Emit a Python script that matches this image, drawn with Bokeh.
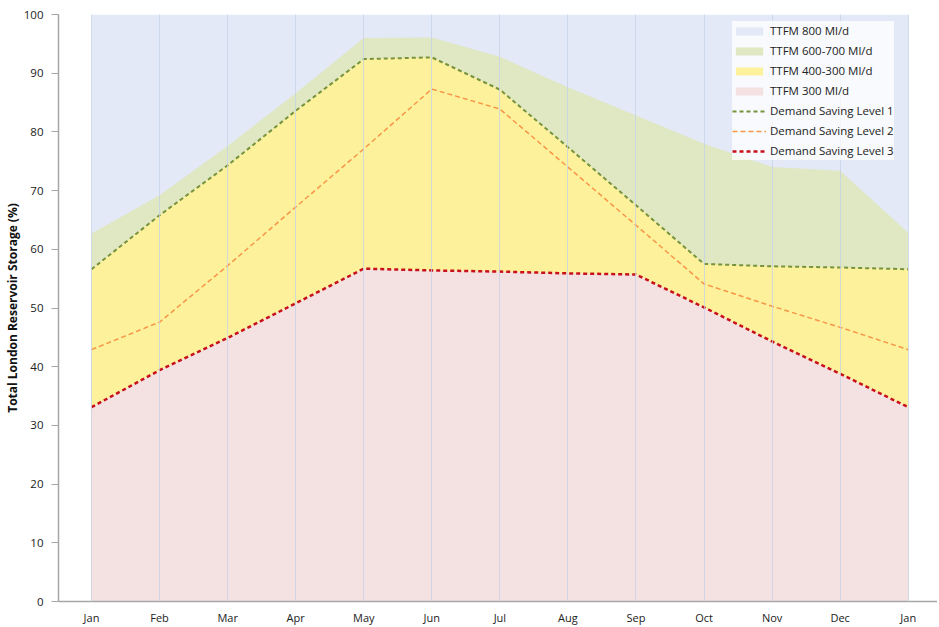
from bokeh.plotting import figure
from bokeh.models import Range1d, FixedTicker, Legend, LegendItem
from bokeh.embed import file_html
from bokeh.resources import INLINE

months = ["Jan", "Feb", "Mar", "Apr", "May", "Jun", "Jul", "Aug", "Sep", "Oct", "Nov", "Dec", "Jan"]
ttfm_800 = [100, 100, 100, 100, 100, 100, 100, 100, 100, 100, 100, 100, 100]
ttfm_600_700 = [62.7, 69.2, 77.6, 86.6, 96.0, 96.1, 92.8, 87.6, 82.8, 78.0, 74.0, 73.4, 62.8]
level_1 = [56.6, 65.8, 74.3, 83.6, 92.4, 92.7, 87.2, 77.4, 67.5, 57.5, 57.1, 56.9, 56.6]
level_2 = [42.9, 47.6, 57.2, 67.2, 77.1, 87.3, 83.9, 74.0, 64.1, 54.1, 50.3, 46.7, 42.9]
level_3 = [33.1, 39.4, 44.9, 50.8, 56.7, 56.4, 56.2, 55.9, 55.7, 50.1, 44.3, 38.8, 33.1]

x = list(range(len(months)))
zeros = [0] * len(months)

FONT = "Open Sans"

p = figure(frame_width=879, frame_height=587, output_backend="svg", toolbar_location=None,
           x_range=Range1d(-0.485, 12.43), y_range=Range1d(0, 100),
           min_border_left=52, min_border_top=14, min_border_right=0, min_border_bottom=26)
p.outline_line_color = None
p.background_fill_color = "white"

r800 = p.varea(x=x, y1=zeros, y2=ttfm_800, fill_color="#E3E9F6")
r600 = p.varea(x=x, y1=zeros, y2=ttfm_600_700, fill_color="#DFE7C3")
r400 = p.varea(x=x, y1=zeros, y2=level_1, fill_color="#FDF19C")
r300 = p.varea(x=x, y1=zeros, y2=level_3, fill_color="#F4E1E2")

l1 = p.line(x, level_1, line_color="#77933C", line_width=2, line_dash="4 3")
l2 = p.line(x, level_2, line_color="#F79646", line_width=1.5, line_dash="5 3")
l3 = p.line(x, level_3, line_color="#C8101A", line_width=2.5, line_dash="4 3")

# axes
p.xaxis.ticker = FixedTicker(ticks=x)
p.xaxis.major_label_overrides = {i: m for i, m in enumerate(months)}
p.xaxis.major_tick_line_color = None
p.xaxis.minor_tick_line_color = None
p.xaxis.axis_line_color = "#A6A6A6"
p.xaxis.axis_line_width = 1.5
p.xaxis.major_label_text_font = FONT
p.xaxis.major_label_text_font_size = "11px"
p.xaxis.major_label_text_color = "#222222"
p.xaxis.major_label_standoff = 2

p.yaxis.ticker = FixedTicker(ticks=list(range(0, 101, 10)))
p.yaxis.minor_tick_line_color = None
p.yaxis.major_tick_line_color = "#A6A6A6"
p.yaxis.major_tick_out = 7
p.yaxis.major_tick_in = 0
p.yaxis.axis_line_color = "#A6A6A6"
p.yaxis.axis_line_width = 1.5
p.yaxis.major_label_text_font = FONT
p.yaxis.major_label_text_font_size = "11.5px"
p.yaxis.major_label_text_color = "#222222"
p.yaxis.major_label_standoff = 8
p.yaxis.axis_label = "Total London Reservoir Storage (%)"
p.yaxis.axis_label_text_font = FONT
p.yaxis.axis_label_text_font_size = "12px"
p.yaxis.axis_label_text_font_style = "bold"
p.yaxis.axis_label_text_color = "#111111"
p.yaxis.axis_label_standoff = 0

p.ygrid.grid_line_color = None
p.xgrid.ticker = FixedTicker(ticks=x)
p.xgrid.grid_line_color = "#C5D0E6"
p.xgrid.grid_line_alpha = 0.75
p.xgrid.grid_line_width = 1
p.xgrid.level = "guide"

legend = Legend(items=[
    LegendItem(label="TTFM 800 Ml/d", renderers=[r800]),
    LegendItem(label="TTFM 600-700 Ml/d", renderers=[r600]),
    LegendItem(label="TTFM 400-300 Ml/d", renderers=[r400]),
    LegendItem(label="TTFM 300 Ml/d", renderers=[r300]),
    LegendItem(label="Demand Saving Level 1", renderers=[l1]),
    LegendItem(label="Demand Saving Level 2", renderers=[l2]),
    LegendItem(label="Demand Saving Level 3", renderers=[l3]),
], location=(674, 441))
legend.label_text_font = FONT
legend.label_text_font_size = "11.5px"
legend.label_text_color = "#222222"
legend.glyph_width = 34
legend.glyph_height = 10
legend.label_height = 19
legend.label_standoff = 4
legend.spacing = 1
legend.padding = 7
legend.margin = 0
legend.border_line_color = None
legend.background_fill_color = "white"
legend.background_fill_alpha = 0.75
p.add_layout(legend)

open("out.html", "w").write(file_html(p, INLINE))
